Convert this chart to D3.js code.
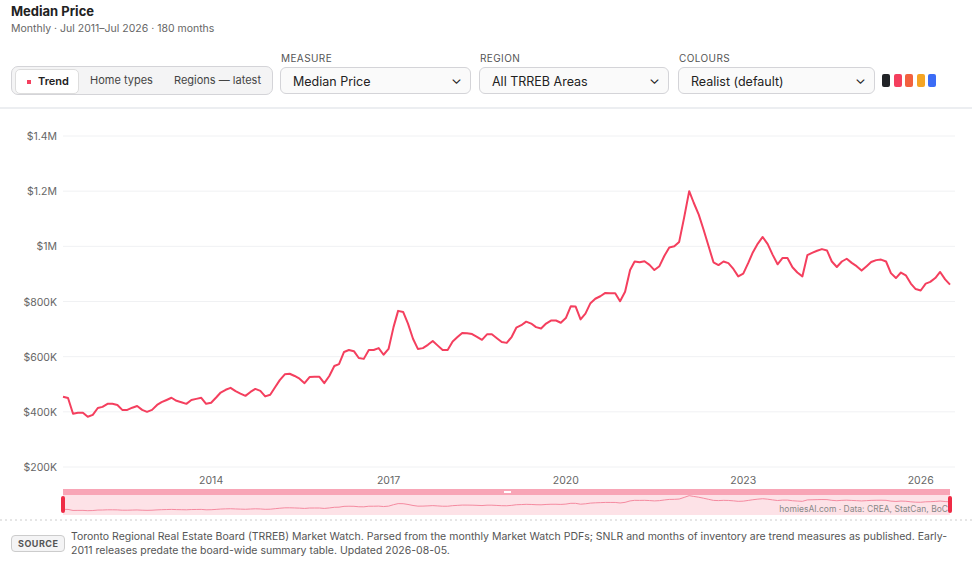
<!DOCTYPE html>
<html><head><meta charset="utf-8">
<script src="https://cdn.jsdelivr.net/npm/d3@7"></script>
<style>
body{margin:0;background:#fff;font-family:Inter,"Noto Sans",sans-serif;color:#222}
.abs{position:absolute}
.lbl{font-size:10px;color:#555;letter-spacing:.4px}
.sel{height:27px;border:1px solid #d4d4d8;border-radius:6px;background:#fafafa;font-size:12.5px;box-sizing:border-box;padding:6px 12px;color:#222}
.sel:after{content:"⌄";position:absolute;right:8px;top:2px;font-size:14px}
</style></head><body>
<div id="root" style="position:relative;width:980px;height:565px"></div>
<script>
// Monthly median price ($K), TRREB all areas, Jul 2011 onward
const startMonth = new Date(2011, 6, 1);
const medianPrice = [
  455,450,393,397,397,382,389,414,418,429,
  429,425,407,407,415,421,407,400,407,425,
  435,443,451,440,435,429,443,447,451,429,
  433,452,470,480,487,475,466,458,472,483,
  476,456,462,490,515,536,538,530,520,504,
  526,527,527,504,530,566,573,617,624,620,
  595,592,624,624,631,607,628,708,766,762,
  720,665,628,631,643,657,640,624,624,655,
  670,686,685,682,672,661,681,681,667,653,
  650,672,705,714,727,720,707,702,720,731,
  731,723,740,783,782,735,756,794,810,819,
  831,830,830,801,835,914,945,942,946,933,
  914,928,966,996,1000,1016,1105,1200,1158,1115,
  1060,1000,942,932,945,939,918,891,901,940,
  978,1010,1034,1008,970,935,958,958,924,905,
  891,968,976,984,990,985,945,925,945,955,
  940,928,912,928,943,950,952,945,903,885,
  905,895,865,845,840,865,871,885,907,880,
  861
];
const yTicks = [200, 400, 600, 800, 1000, 1200, 1400];
const xTickYears = [2014, 2017, 2020, 2023, 2026];
const tabs = ["Trend", "Home types", "Regions — latest"];
const dropdowns = [
  {label: "MEASURE", value: "Median Price", x: 280, w: 191},
  {label: "REGION", value: "All TRREB Areas", x: 479, w: 190},
  {label: "COLOURS", value: "Realist (default)", x: 678, w: 197}
];
const swatches = ["#222428", "#f43f5e", "#f2613f", "#f5a524", "#3b6cf6"];

const data = medianPrice.map((v, i) => ({date: d3.timeMonth.offset(startMonth, i), v}));
const root = d3.select("#root");

// header
root.append("div").attr("class", "abs").style("left", "11px").style("top", "3px")
  .style("font-size", "13px").style("font-weight", "700").text("Median Price");
root.append("div").attr("class", "abs").style("left", "11px").style("top", "22px")
  .style("font-size", "10.5px").style("color", "#666").text("Monthly · Jul 2011–Jul 2026 · 180 months");

// tab group
const tg = root.append("div").attr("class", "abs")
  .style("left", "11px").style("top", "66px").style("width", "262px").style("height", "29px")
  .style("border", "1px solid #d4d4d8").style("border-radius", "7px").style("background", "#f4f4f5")
  .style("box-sizing", "border-box");
const tabX = [3, 78, 162];
tabs.forEach((t, i) => {
  const d = tg.append("div").attr("class", "abs").style("left", tabX[i] + "px").style("top", "2px")
    .style("height", "23px").style("line-height", "23px").style("font-size", "11px")
    .style("padding", i == 0 ? "0 9px 0 22px" : "0 0 0 0").style("color", i == 0 ? "#222" : "#444")
    .style("font-weight", i == 0 ? "600" : "400").text(t);
  if (i == 0) {
    d.style("background", "#fff").style("border", "1px solid #ddd").style("border-radius", "5px");
    d.append("span").attr("class", "abs").style("left", "11px").style("top", "10px")
      .style("width", "4px").style("height", "4px").style("background", "#f43f5e");
  }
});
tg.selectAll("div").filter((d, i) => i == 1).style("left", "78px");

dropdowns.forEach(d => {
  root.append("div").attr("class", "abs lbl").style("left", (d.x + 1) + "px").style("top", "52px").text(d.label);
  root.append("div").attr("class", "abs sel").style("left", d.x + "px").style("top", "67px")
    .style("width", d.w + "px").text(d.value);
});
swatches.forEach((c, i) => {
  root.append("div").attr("class", "abs").style("left", (882 + i * 11.5) + "px").style("top", "74px")
    .style("width", "8px").style("height", "13px").style("border-radius", "2px").style("background", c);
});
root.append("div").attr("class", "abs").style("left", "0").style("top", "107px")
  .style("width", "972px").style("height", "2px").style("background", "#eceef1");

// chart
const svg = root.append("svg").attr("class", "abs").style("left", 0).style("top", 0)
  .attr("width", 980).attr("height", 565).style("pointer-events", "none");
const x = d3.scaleTime().domain([startMonth, data[data.length - 1].date]).range([63, 950]);
const y = d3.scaleLinear().domain([200, 1400]).range([467, 136]);
const fmt = v => v >= 1000 ? "$" + (v / 1000) + "M" : "$" + v + "K";

svg.append("g").selectAll("line").data(yTicks).join("line")
  .attr("x1", 63).attr("x2", 955).attr("y1", y).attr("y2", y)
  .attr("stroke", "#f0f1f3").attr("stroke-width", 1);
svg.append("g").selectAll("text").data(yTicks).join("text")
  .attr("x", 57).attr("y", d => y(d) + 4).attr("text-anchor", "end")
  .attr("font-size", 10.5).attr("fill", "#666").text(fmt);
svg.append("g").selectAll("text").data(xTickYears).join("text")
  .attr("x", d => x(new Date(d, 0, 1))).attr("y", 484).attr("text-anchor", "middle")
  .attr("font-size", 10.5).attr("fill", "#666").text(d => d);

svg.append("path").datum(data).attr("fill", "none").attr("stroke", "#f43f5e")
  .attr("stroke-width", 2).attr("stroke-linejoin", "round")
  .attr("d", d3.line().x(d => x(d.date)).y(d => y(d.v)));

// range slider / overview
svg.append("rect").attr("x", 63).attr("y", 489).attr("width", 887).attr("height", 26).attr("fill", "#fde2e7");
svg.append("rect").attr("x", 63).attr("y", 489).attr("width", 887).attr("height", 6).attr("fill", "#f8a5b6");
svg.append("rect").attr("x", 504).attr("y", 491).attr("width", 7).attr("height", 2).attr("fill", "#fff");
const ym = d3.scaleLinear().domain([200, 1400]).range([514, 492]);
svg.append("path").datum(data).attr("fill", "none").attr("stroke", "#f58aa0").attr("stroke-width", 1)
  .attr("d", d3.line().x(d => x(d.date)).y(d => ym(d.v)));
[63, 950].forEach(hx => svg.append("rect").attr("x", hx - 2).attr("y", 496).attr("width", 4)
  .attr("height", 17).attr("rx", 2).attr("fill", "#ef2b45"));
svg.append("text").attr("x", 948).attr("y", 512).attr("text-anchor", "end").attr("font-size", 8.5)
  .attr("fill", "#888").text("homiesAI.com · Data: CREA, StatCan, BoC");
svg.append("line").attr("x1", 0).attr("x2", 972).attr("y1", 520).attr("y2", 520)
  .attr("stroke", "#ccc").attr("stroke-dasharray", "2,3");

// source
root.append("div").attr("class", "abs").style("left", "11px").style("top", "535px")
  .style("font-size", "9px").style("font-weight", "700").style("color", "#555").style("letter-spacing", ".5px")
  .style("border", "1px solid #ccc").style("border-radius", "4px").style("background", "#f4f4f5")
  .style("padding", "2px 6px").text("SOURCE");
root.append("div").attr("class", "abs").style("left", "71px").style("top", "530px").style("width", "890px")
  .style("font-size", "10.5px").style("line-height", "14px").style("color", "#555")
  .text("Toronto Regional Real Estate Board (TRREB) Market Watch. Parsed from the monthly Market Watch PDFs; SNLR and months of inventory are trend measures as published. Early-2011 releases predate the board-wide summary table. Updated 2026-08-05.");
</script>
</body></html>
